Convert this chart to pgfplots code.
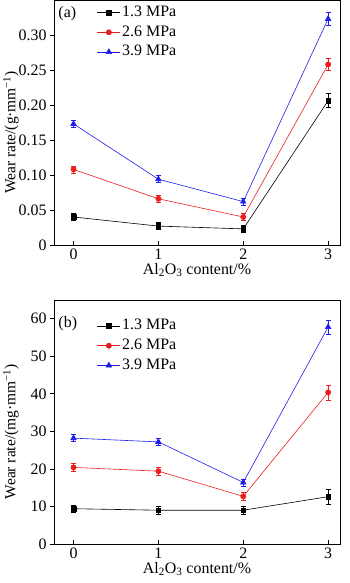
\documentclass[border=0pt]{standalone}
\usepackage{pgfplots}
\pgfplotsset{compat=1.18}
\usepackage{fontspec}
\setmainfont{Liberation Serif}
\definecolor{myred}{RGB}{235,30,30}
\definecolor{myblue}{RGB}{30,30,235}
\newcommand{\ff}{\fontsize{16}{18}\selectfont}
\pgfplotsset{
  common/.style={
    scale only axis,
    width=286bp, height=244bp,
    xmin=-0.23, xmax=3.14,
    xtick={0,1,2,3},
    tick label style={font=\ff},
    label style={font=\ff},
    /pgf/number format/assume math mode=true,
    xtick pos=bottom, ytick pos=left,
    xtick align=inside, ytick align=outside,
    major tick length=4bp,
    axis line style={line width=0.7bp},
    every tick/.style={line width=0.7bp, black},
    xlabel={Al\textsubscript{2}O\textsubscript{3} content/\%},
    xlabel style={yshift=3bp},
    every axis y label/.style={at={(axis description cs:0,0.46)}, xshift=-35bp,
      anchor=south, rotate=90, inner sep=0pt, font=\fontsize{15.5}{18}\selectfont},
    legend style={draw=none, fill=none, font=\ff,
      at={(0.15,0.985)}, anchor=north west, row sep=2.2bp, inner sep=0pt,
      nodes={inner sep=1.5bp, text height=11bp, text depth=3.5bp}},
    legend cell align=left,
    legend image code/.code={
      \draw[mark repeat=2,mark phase=2] plot coordinates {(0bp,0bp) (11.5bp,0bp) (23bp,0bp)};},
    error bars/y dir=both, error bars/y explicit,
    error bars/error bar style={line width=0.6bp},
    error bars/error mark options={rotate=90, mark size=2.5bp, line width=0.6bp},
  },
  s1/.style={black, line width=0.6bp, mark=square*, mark size=2.3bp, mark options={fill=black}},
  s2/.style={myred, line width=0.6bp, mark=*, mark size=2.6bp, mark options={fill=myred}},
  s3/.style={myblue, line width=0.6bp, mark=triangle*, mark size=3.2bp, mark options={fill=myblue}},
}
\begin{document}
\begin{tikzpicture}
\useasboundingbox (0,0) rectangle (350bp,583bp);
\begin{axis}[common, at={(54bp,338bp)}, anchor=south west,
  height=245bp,
  ymin=0, ymax=0.35,
  ytick={0,0.05,0.10,0.15,0.20,0.25,0.30},
  yticklabels={0,0.05,0.10,0.15,0.20,0.25,0.30},
  ylabel={Wear rate/(g·mm\textsuperscript{−1})},
]
\addplot[s1] table[x=x,y=y,y error=e] {
x y e
0 0.040 0.005
1 0.027 0.005
2 0.023 0.005
3 0.206 0.010
};
\addlegendentry{1.3 MPa}
\addplot[s2] table[x=x,y=y,y error=e] {
x y e
0 0.108 0.005
1 0.066 0.005
2 0.040 0.005
3 0.258 0.009
};
\addlegendentry{2.6 MPa}
\addplot[s3] table[x=x,y=y,y error=e] {
x y e
0 0.173 0.005
1 0.094 0.005
2 0.062 0.005
3 0.323 0.009
};
\addlegendentry{3.9 MPa}
\node[anchor=north west, font=\ff, inner sep=0pt] at (rel axis cs:0.015,0.975) {(a)};
\end{axis}
\begin{axis}[common, at={(54bp,39bp)}, anchor=south west,
  ymin=0, ymax=65,
  ytick={0,10,20,30,40,50,60},
  ylabel={Wear rate/(mg·mm\textsuperscript{−1})},
  legend style={at={(0.15,0.93)}},
]
\addplot[s1] table[x=x,y=y,y error=e] {
x y e
0 9.4 1.0
1 9.0 1.0
2 9.0 1.0
3 12.6 2.0
};
\addlegendentry{1.3 MPa}
\addplot[s2] table[x=x,y=y,y error=e] {
x y e
0 20.4 1.0
1 19.4 1.0
2 12.7 1.0
3 40.4 2.0
};
\addlegendentry{2.6 MPa}
\addplot[s3] table[x=x,y=y,y error=e] {
x y e
0 28.2 0.9
1 27.2 1.0
2 16.4 0.9
3 57.8 1.9
};
\addlegendentry{3.9 MPa}
\node[anchor=north west, font=\ff, inner sep=0pt] at (rel axis cs:0.015,0.935) {(b)};
\end{axis}
\end{tikzpicture}
\end{document}
